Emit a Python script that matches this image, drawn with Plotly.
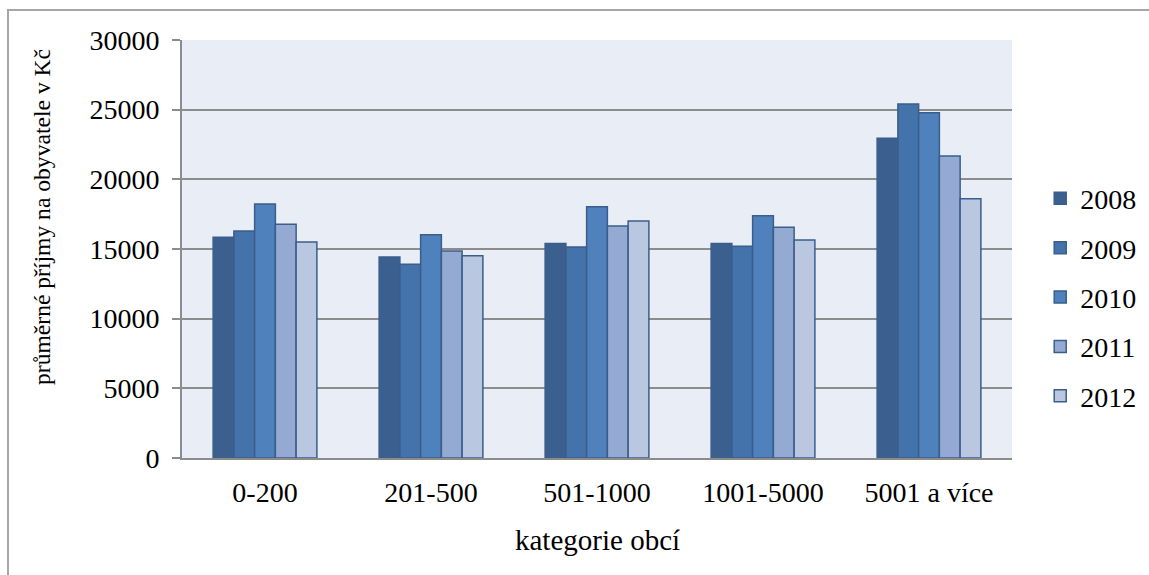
import plotly.graph_objects as go

# Average municipal revenue per inhabitant (CZK) by municipality size category
categories = ["0-200", "201-500", "501-1000", "1001-5000", "5001 a více"]
years = ["2008", "2009", "2010", "2011", "2012"]

v2008 = [15850, 14420, 15400, 15400, 22950]
v2009 = [16300, 13900, 15150, 15200, 25400]
v2010 = [18230, 16020, 18040, 17390, 24780]
v2011 = [16770, 14860, 16650, 16560, 21680]
v2012 = [15500, 14520, 17010, 15650, 18610]

series = [v2008, v2009, v2010, v2011, v2012]
colors = ["#3B5F8E", "#4373AA", "#4F81BD", "#95AAD2", "#B9C7E0"]

FONT = "Liberation Serif"
GRID = "#8C8C8C"

fig = go.Figure()
for name, vals, col in zip(years, series, colors):
    fig.add_trace(go.Bar(
        x=categories, y=vals, name=name, legendgroup=name,
        marker=dict(color=col, line=dict(color="#3A5E8C", width=1.5)),
    ))

W, H = 1149, 575
L, R, T, B = 182, 137, 40, 117
PW, PH = W - L - R, H - T - B

fig.update_layout(
    width=W, height=H,
    margin=dict(l=L, r=R, t=T, b=B, autoexpand=False),
    paper_bgcolor="white",
    plot_bgcolor="#E9EDF5",
    barmode="group", bargap=0.375, bargroupgap=0,
    font=dict(family=FONT, size=28, color="black"),
    showlegend=True,
    legend=dict(
        x=1.034, xanchor="left", y=0.385, yanchor="middle",
        font=dict(family=FONT, size=28, color="black"),
        tracegroupgap=10, itemwidth=30,
        bgcolor="rgba(0,0,0,0)",
    ),
    xaxis=dict(
        showline=True, linecolor=GRID, linewidth=2,
        ticks="", showgrid=False, zeroline=False,
        tickfont=dict(family=FONT, size=28, color="black"),
        ticklabelstandoff=8,
    ),
    yaxis=dict(
        range=[0, 30000], dtick=5000, tickformat="d",
        showline=True, linecolor=GRID, linewidth=2,
        showgrid=True, gridcolor=GRID, gridwidth=2,
        ticks="outside", ticklen=8, tickcolor=GRID, tickwidth=2,
        tickfont=dict(family=FONT, size=28, color="black"),
        ticklabelstandoff=7,
        zeroline=False,
    ),
    annotations=[
        dict(text="průměrné příjmy na obyvatele v Kč", textangle=-90,
             xref="paper", yref="paper", x=(42 - L) / PW, y=(458 - 217) / PH,
             xanchor="center", yanchor="middle", showarrow=False,
             font=dict(family=FONT, size=23.6, color="black")),
        dict(text="kategorie obcí",
             xref="paper", yref="paper", x=0.5, y=(458 - 540) / PH,
             xanchor="center", yanchor="middle", showarrow=False,
             font=dict(family=FONT, size=29, color="black")),
    ],
    shapes=[
        dict(type="rect", xref="paper", yref="paper",
             x0=(8 - L) / PW, x1=(W + 10 - L) / PW,
             y0=(458 - (H + 10)) / PH, y1=(458 - 10) / PH,
             line=dict(color="#A6A6A6", width=2), fillcolor="rgba(0,0,0,0)", layer="below"),
    ],
)

fig.write_html("out.html")
